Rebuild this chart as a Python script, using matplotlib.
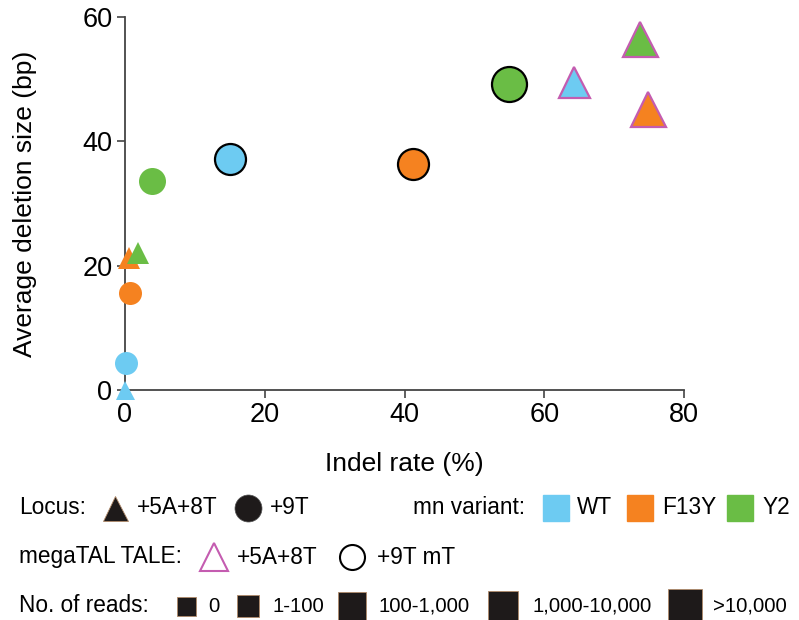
import numpy as np
import matplotlib.pyplot as plt

plt.rcParams['font.family'] = ['Liberation Sans', 'DejaVu Sans']

# data
indel_rate = [0.0, 0.14, 0.7, 0.6, 1.9, 3.8, 15.0, 41.2, 55.0, 64.3, 73.7, 74.9]
deletion_size = [0.0, 4.3, 15.6, 21.2, 22.0, 33.6, 37.2, 36.3, 49.2, 49.6, 56.4, 45.2]
variant = ['WT', 'WT', 'F13Y', 'F13Y', 'Y2', 'Y2', 'WT', 'F13Y', 'Y2', 'WT', 'Y2', 'F13Y']
locus = ['+5A+8T', '+9T', '+9T', '+5A+8T', '+5A+8T', '+9T',
         '+9T mT', '+9T mT', '+9T mT', 'megaTAL +5A+8T', 'megaTAL +5A+8T', 'megaTAL +5A+8T']
reads_cat = [0, 1, 1, 1, 1, 2, 3, 3, 4, 3, 4, 4]

variants = ['WT', 'F13Y', 'Y2']
read_labels = ['0', '1-100', '100-1,000', '1,000-10,000', '>10,000']

colors = {'WT': '#6DCBF2', 'F13Y': '#F58220', 'Y2': '#6ABD45'}
magenta = '#C45CB0'
size_px = [19, 23, 27, 31, 35]  # marker width per read category


def px2pt(p):
    return p * 72 / 100


fig = plt.figure(figsize=(7.99, 6.2), dpi=100)
ax = fig.add_axes([125 / 799, 1 - 390 / 620, 559 / 799, 373 / 620])

for x, y, v, loc, rc in zip(indel_rate, deletion_size, variant, locus, reads_cat):
    marker = '^' if '5A' in loc else 'o'
    if loc.startswith('megaTAL'):
        ec, lw = magenta, 1.6
    elif loc.endswith('mT'):
        ec, lw = 'black', 1.6
    else:
        ec, lw = 'none', 0
    ax.plot(x, y, marker=marker, ms=px2pt(size_px[rc]), mfc=colors[v], mec=ec,
            mew=lw, ls='none', clip_on=False, zorder=5)

ax.set_xlim(0, 80)
ax.set_ylim(0, 60)
ax.set_xticks([0, 20, 40, 60, 80])
ax.set_yticks([0, 20, 40, 60])
ax.spines['top'].set_visible(False)
ax.spines['right'].set_visible(False)
for s in ['left', 'bottom']:
    ax.spines[s].set_color('#444444')
    ax.spines[s].set_linewidth(1.3)
ax.tick_params(direction='out', length=6, width=1.2, colors='#444444',
               labelcolor='black', labelsize=19.5, pad=3)
ax.set_xlabel('Indel rate (%)', fontsize=19, labelpad=17)
ax.set_ylabel('Average deletion size (bp)', fontsize=19, labelpad=33)

# legend drawn in pixel coordinates below the plot
leg = fig.add_axes([0, 0, 1, 1], zorder=-1)
leg.set_xlim(0, 799)
leg.set_ylim(620, 0)
leg.axis('off')
fs = 16.3
fs_num = 14.7
dark = '#1e1a1a'
tan = '#b08a6a'

r1, r2, r3 = 508, 557, 606
leg.text(19, r1, 'Locus:', fontsize=fs, va='center')
leg.plot(115, r1, marker='^', ms=px2pt(25), color=dark, mec=tan, mew=0.6)
leg.text(137, r1, '+5A+8T', fontsize=fs, va='center')
leg.plot(248, r1, marker='o', ms=px2pt(27), color=dark, mec='#555555', mew=0.5)
leg.text(270, r1, '+9T', fontsize=fs, va='center')
leg.text(413, r1, 'mn variant:', fontsize=fs, va='center')
for v, sx, tx in zip(variants, [556, 640, 740], [577, 662, 762]):
    leg.plot(sx, r1, marker='s', ms=px2pt(26), color=colors[v])
    leg.text(tx, r1, v, fontsize=fs, va='center')

leg.text(19, r2, 'megaTAL TALE:', fontsize=fs, va='center')
leg.plot(214, r2, marker='^', ms=px2pt(27), mfc='none', mec=magenta, mew=1.5)
leg.text(237, r2, '+5A+8T', fontsize=fs, va='center')
leg.plot(352, r2, marker='o', ms=px2pt(25), mfc='none', mec='black', mew=1.5)
leg.text(377, r2, '+9T mT', fontsize=fs, va='center')

leg.text(19, r3, 'No. of reads:', fontsize=fs, va='center')
sq_size = [19, 23, 27, 30, 34]
for lab, sz, sx, tx in zip(read_labels, sq_size, [186, 248, 352, 503, 685],
                           [208, 272, 379, 533, 713]):
    leg.plot(sx, r3, marker='s', ms=px2pt(sz), color=dark, mec=tan, mew=0.6)
    leg.text(tx, r3, lab, fontsize=fs_num, va='center')

plt.savefig('out.png', dpi=100)
